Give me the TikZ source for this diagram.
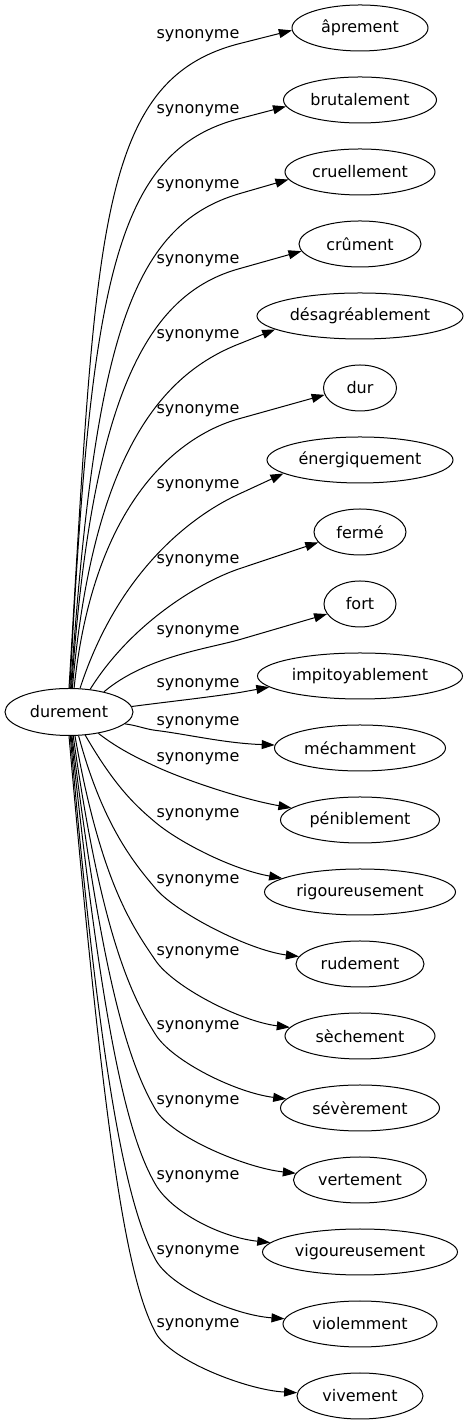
\documentclass[tikz,border=0pt]{standalone}
\usepackage{fontspec}
\setmainfont{DejaVu Sans}
\usetikzlibrary{shapes.geometric, arrows.meta}

\tikzset{
  mot/.style={ellipse, draw, line width=1pt, inner sep=0pt, minimum height=46pt, font=\fontsize{16}{19}\selectfont},
  rel/.style={inner sep=1pt, font=\fontsize{16}{19}\selectfont},
  lien/.style={draw, line width=1pt, -{Triangle[length=13pt, width=9pt]}}
}

\begin{document}
\begin{tikzpicture}[x=1pt, y=1pt]
    \useasboundingbox (0,0) rectangle (468,1427);

    % Central word
    \node[mot, minimum width=128pt, minimum height=47pt] (dur) at (69,715) {durement};

    % Synonyms, one per row
    \foreach \i/\w/\txt in {1/136/âprement, 2/153/brutalement, 3/150/cruellement, 4/122/crûment,
        5/206/désagréablement, 6/73/dur, 7/186/énergiquement, 8/92/fermé, 9/72/fort,
        10/205/impitoyablement, 11/171/méchamment, 12/159/péniblement, 13/191/rigoureusement,
        14/128/rudement, 15/150/sèchement, 16/159/sévèrement, 17/133/vertement,
        18/195/vigoureusement, 19/154/violemment, 20/126/vivement}
        \node[mot, minimum width=\w pt] (s\i) at (360,{1399-72*(\i-1)}) {\txt};

    % Edge labels
    \foreach \i/\y in {1/1391, 2/1316, 3/1241, 4/1166, 5/1091, 6/1016, 7/941, 8/866, 9/795, 10/742,
        11/704, 12/668, 13/612, 14/546, 15/474, 16/400, 17/325, 18/250, 19/175, 20/102}
        \node[rel] (l\i) at (198,\y) {synonyme};

    % Edges going up
    \foreach \i/\b/\a/\da/\th/\dq/\p in {1/90/86.5/450/14/150/182, 2/88/87/400/14/132/185,
        3/86/86/347/16/115/186, 4/84/86/294/15/97/187, 5/82/85/242/21/80/189,
        6/78/84/189/15/63/191, 7/65/72/130/24/45/190, 8/47/58/80/18/40/194,
        9/30/40/55/16/35/197, 10/5/7.5/35/9/30/187}
        \draw[lien] (dur.\b) .. controls +(\a:\da) and +(\th:-\dq) .. (l\i.south east) -- (s\i.\p);

    % Edges going down
    \foreach \i/\b/\a/\da/\th/\dq/\p in {11/348/-7/12/-7/10/178, 12/324/-38/25/-25/20/170,
        13/305/-60/60/-40/25/170, 14/292/-75/95/-50/30/173, 15/284/-80/150/-56/40/173,
        16/280/-82/200/-58/45/173, 17/277/-83/255/-60/50/174, 18/275/-84/310/-60/52/174,
        19/273/-85/365/-62/56/176, 20/270/-85/415/-62/60/177}
        \draw[lien] (dur.\b) .. controls +(\a:\da) and +(\th:-\dq) .. (l\i.south west)
            .. controls +(\th:32) and +(\p:50) .. (s\i.\p);
\end{tikzpicture}
\end{document}
